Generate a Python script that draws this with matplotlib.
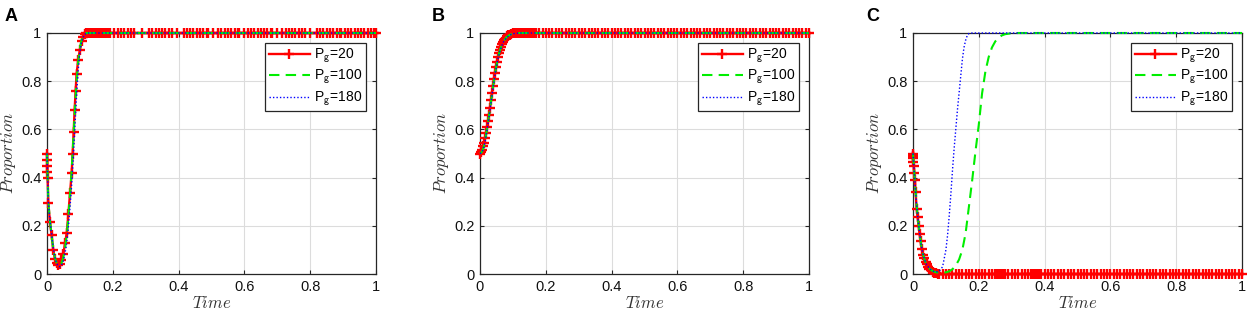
import matplotlib
matplotlib.use("Agg")
import matplotlib.pyplot as plt
from matplotlib.ticker import FormatStrFormatter

plt.rcParams['font.family'] = ['Liberation Sans', 'DejaVu Sans']
plt.rcParams['mathtext.fontset'] = 'cm'

labels = [r'P$_{\mathsf{g}}$=20', r'P$_{\mathsf{g}}$=100', r'P$_{\mathsf{g}}$=180']
panel_names = ['A', 'B', 'C']

# ---- panel A ----
a_t20 = [0, 0.0005, 0.001, 0.0015, 0.002, 0.004, 0.009, 0.014, 0.019, 0.024, 0.029, 0.034,
         0.039, 0.044, 0.050, 0.055, 0.060, 0.065, 0.070, 0.075, 0.078, 0.081, 0.084, 0.087,
         0.090, 0.095, 0.100, 0.105, 0.110, 0.115, 0.120]
a_y20 = [0.50, 0.475, 0.45, 0.425, 0.40, 0.295, 0.215, 0.16, 0.10, 0.063, 0.045, 0.037,
         0.042, 0.058, 0.085, 0.13, 0.17, 0.25, 0.335, 0.42, 0.50, 0.59, 0.68, 0.76,
         0.83, 0.89, 0.93, 0.965, 0.985, 0.995, 1.0]
a_flat20 = [0.125, 0.13, 0.135, 0.14, 0.145, 0.15, 0.155, 0.16, 0.165, 0.17, 0.175, 0.18,
            0.185, 0.19, 0.205, 0.215, 0.225, 0.235, 0.245, 0.255, 0.265, 0.29,
            0.31, 0.32, 0.33, 0.34, 0.35, 0.36, 0.37, 0.38, 0.395,
            0.415, 0.425, 0.435, 0.445, 0.455, 0.465, 0.475, 0.485, 0.49, 0.505,
            0.52, 0.53, 0.54, 0.55, 0.56, 0.57, 0.58, 0.585, 0.60,
            0.61, 0.62, 0.63, 0.64, 0.65, 0.66, 0.67, 0.68, 0.685, 0.70,
            0.715, 0.725, 0.735, 0.745, 0.755, 0.765, 0.775, 0.785, 0.80,
            0.82, 0.83, 0.84, 0.85, 0.86, 0.87, 0.88, 0.89, 0.895, 0.905,
            0.915, 0.925, 0.935, 0.945, 0.955, 0.965, 0.975, 0.985, 0.995, 1.0]
a_t_other = [0, 0.004, 0.009, 0.014, 0.019, 0.024, 0.029, 0.034, 0.039, 0.044, 0.049, 0.054,
             0.059, 0.064, 0.069, 0.074, 0.079, 0.084, 0.089, 0.094, 0.099, 0.104, 0.109,
             0.114, 0.120, 0.13, 1.0]
a_y100 = [0.50, 0.30, 0.22, 0.16, 0.105, 0.068, 0.047, 0.036, 0.035, 0.045, 0.065, 0.10,
          0.15, 0.22, 0.31, 0.41, 0.53, 0.66, 0.78, 0.87, 0.93, 0.965, 0.985, 0.995, 1.0,
          1.0, 1.0]
a_y180 = [0.50, 0.30, 0.22, 0.165, 0.11, 0.07, 0.045, 0.033, 0.030, 0.036, 0.052, 0.08,
          0.12, 0.18, 0.26, 0.35, 0.46, 0.59, 0.72, 0.83, 0.91, 0.955, 0.98, 0.993, 1.0,
          1.0, 1.0]

# ---- panel B ----
b_t20 = [0, 0.003, 0.006, 0.009, 0.012, 0.015, 0.018, 0.021, 0.024, 0.027, 0.030, 0.033,
         0.036, 0.039, 0.042, 0.045, 0.048, 0.051, 0.054, 0.057, 0.060, 0.063, 0.066, 0.069,
         0.072, 0.075, 0.078, 0.082, 0.086, 0.090, 0.095, 0.100, 0.105, 0.110, 0.115]
b_y20 = [0.50, 0.505, 0.515, 0.53, 0.545, 0.565, 0.585, 0.61, 0.635, 0.66, 0.69, 0.72,
         0.75, 0.78, 0.81, 0.835, 0.86, 0.88, 0.90, 0.915, 0.93, 0.942, 0.953, 0.962,
         0.97, 0.976, 0.981, 0.986, 0.990, 0.993, 0.996, 0.998, 0.999, 1.0, 1.0]
b_flat20 = [0.12, 0.125, 0.13, 0.135, 0.14, 0.145, 0.15, 0.155, 0.16, 0.165, 0.17, 0.18,
            0.19, 0.20, 0.21, 0.22, 0.23, 0.24, 0.25, 0.26, 0.27, 0.28, 0.29, 0.30, 0.31,
            0.32, 0.33, 0.34, 0.35, 0.36, 0.37, 0.38, 0.39, 0.40, 0.41, 0.42, 0.43, 0.44,
            0.45, 0.46, 0.47, 0.48, 0.49, 0.50, 0.51, 0.52, 0.53, 0.54, 0.55, 0.56, 0.57,
            0.58, 0.59, 0.60, 0.61, 0.62, 0.63, 0.64, 0.65, 0.66, 0.67, 0.68, 0.69, 0.70,
            0.71, 0.72, 0.73, 0.74, 0.75, 0.76, 0.77, 0.78, 0.79, 0.80, 0.81, 0.82, 0.83,
            0.84, 0.85, 0.86, 0.87, 0.88, 0.89, 0.90, 0.91, 0.92, 0.93, 0.94, 0.95, 0.96,
            0.97, 0.98, 0.99, 1.0]
b_t_other = [0, 0.005, 0.010, 0.015, 0.020, 0.025, 0.030, 0.035, 0.040, 0.045, 0.050, 0.055,
             0.060, 0.065, 0.070, 0.080, 0.090, 0.100, 0.110, 0.120, 1.0]
b_y100 = [0.50, 0.505, 0.52, 0.55, 0.59, 0.635, 0.68, 0.73, 0.78, 0.825, 0.865, 0.90,
          0.925, 0.945, 0.962, 0.982, 0.992, 0.997, 0.999, 1.0, 1.0]
b_y180 = [0.50, 0.503, 0.517, 0.545, 0.585, 0.63, 0.675, 0.725, 0.775, 0.82, 0.86, 0.895,
          0.922, 0.943, 0.96, 0.98, 0.991, 0.997, 0.999, 1.0, 1.0]

# ---- panel C ----
c_t20 = [0, 0.0005, 0.001, 0.0015, 0.002, 0.004, 0.006, 0.008, 0.011, 0.014, 0.017, 0.020,
         0.023, 0.026, 0.030, 0.034, 0.038, 0.042, 0.046, 0.050, 0.055, 0.060, 0.065,
         0.070, 0.075]
c_y20 = [0.50, 0.49, 0.48, 0.465, 0.45, 0.42, 0.39, 0.34, 0.27, 0.235, 0.20, 0.165,
         0.135, 0.105, 0.08, 0.065, 0.05, 0.04, 0.03, 0.022, 0.015, 0.01, 0.006,
         0.004, 0.002]
c_flat20 = [0.08, 0.09, 0.10, 0.11, 0.12, 0.13, 0.14, 0.15, 0.16, 0.17, 0.18, 0.19, 0.20,
            0.21, 0.22, 0.23, 0.24, 0.25, 0.255, 0.26, 0.265, 0.27, 0.275, 0.28, 0.29, 0.30,
            0.31, 0.32, 0.33, 0.34, 0.35, 0.36, 0.365, 0.37, 0.375, 0.38, 0.385, 0.39, 0.40,
            0.41, 0.42, 0.43, 0.44, 0.45, 0.46, 0.47, 0.48, 0.49, 0.50, 0.51, 0.52, 0.53,
            0.54, 0.55, 0.56, 0.57, 0.58, 0.59, 0.60, 0.61, 0.62, 0.63, 0.64, 0.65, 0.66,
            0.67, 0.68, 0.69, 0.70, 0.71, 0.72, 0.73, 0.74, 0.75, 0.76, 0.77, 0.78, 0.79,
            0.80, 0.81, 0.82, 0.83, 0.84, 0.85, 0.86, 0.87, 0.88, 0.89, 0.90, 0.91, 0.92,
            0.93, 0.94, 0.95, 0.96, 0.97, 0.98, 0.99, 1.0]
c_t100 = [0, 0.005, 0.01, 0.015, 0.02, 0.025, 0.03, 0.035, 0.04, 0.05, 0.06, 0.07, 0.08,
          0.09, 0.10, 0.11, 0.12, 0.13, 0.14, 0.15, 0.16, 0.17, 0.18, 0.19, 0.20, 0.21,
          0.22, 0.23, 0.24, 0.25, 0.26, 0.27, 0.28, 0.30, 0.32, 1.0]
c_y100 = [0.50, 0.40, 0.30, 0.23, 0.17, 0.12, 0.085, 0.06, 0.042, 0.022, 0.012, 0.007,
          0.005, 0.005, 0.007, 0.011, 0.02, 0.035, 0.06, 0.10, 0.17, 0.28, 0.39, 0.51,
          0.62, 0.75, 0.84, 0.90, 0.94, 0.965, 0.98, 0.99, 0.995, 0.999, 1.0, 1.0]
c_t180 = [0, 0.005, 0.01, 0.015, 0.02, 0.025, 0.03, 0.035, 0.04, 0.05, 0.06, 0.07, 0.08,
          0.09, 0.10, 0.105, 0.11, 0.115, 0.12, 0.125, 0.13, 0.135, 0.14, 0.145, 0.15,
          0.155, 0.16, 0.165, 0.17, 0.18, 1.0]
c_y180 = [0.50, 0.40, 0.30, 0.23, 0.17, 0.12, 0.085, 0.06, 0.042, 0.022, 0.012, 0.008,
          0.012, 0.03, 0.10, 0.16, 0.24, 0.33, 0.43, 0.52, 0.60, 0.68, 0.75, 0.82, 0.89,
          0.94, 0.97, 0.99, 0.998, 1.0, 1.0]

panels = [
    (a_t20 + a_flat20, a_y20 + [1.0] * len(a_flat20), a_t_other, a_y100, a_t_other, a_y180),
    (b_t20 + b_flat20, b_y20 + [1.0] * len(b_flat20), b_t_other, b_y100, b_t_other, b_y180),
    (c_t20 + c_flat20, c_y20 + [0.0] * len(c_flat20), c_t100, c_y100, c_t180, c_y180),
]

W, H = 1248, 312
fig = plt.figure(figsize=(W / 100, H / 100), dpi=100)

axes_left_px = [47, 480, 913]
axes_w_px = 329
axes_top_px, axes_bot_px = 33, 274
letter_x_px = [5, 432, 866]

edge = '#262626'
for i, (t20, y20, t100, y100, t180, y180) in enumerate(panels):
    ax = fig.add_axes([axes_left_px[i] / W, (H - axes_bot_px) / H,
                       axes_w_px / W, (axes_bot_px - axes_top_px) / H])
    ax.plot(t20, y20, color='red', lw=1.7, marker='+', ms=6.5, mew=1.7,
            label=labels[0], clip_on=False, zorder=3)
    ax.plot(t100, y100, color='#00ee00', lw=1.5, ls=(0, (5, 3)),
            label=labels[1], clip_on=False, zorder=4)
    ax.plot(t180, y180, color='blue', lw=1.0, ls=(0, (1, 1.5)),
            label=labels[2], clip_on=False, zorder=5)

    ax.set_xlim(0, 1)
    ax.set_ylim(0, 1)
    ax.set_xticks([0, 0.2, 0.4, 0.6, 0.8, 1])
    ax.set_yticks([0, 0.2, 0.4, 0.6, 0.8, 1])
    ax.xaxis.set_major_formatter(FormatStrFormatter('%g'))
    ax.yaxis.set_major_formatter(FormatStrFormatter('%g'))
    ax.grid(True, color='#dcdcdc', lw=0.8)
    ax.set_axisbelow(True)
    ax.tick_params(direction='in', length=3, width=0.8, colors=edge, labelsize=10.5,
                   top=True, right=True, pad=4)
    ax.tick_params(labelcolor='#111111')
    for s in ax.spines.values():
        s.set_color(edge)
        s.set_linewidth(0.9)
    ax.set_xlabel('$Time$', fontsize=12, color='#333333', labelpad=1)
    ax.set_ylabel('$Proportion$', fontsize=12, color='#333333', labelpad=2)

    leg = ax.legend(loc='upper right', fontsize=10, frameon=True, fancybox=False,
                    edgecolor=edge, framealpha=1, handlelength=3.0, handletextpad=0.25,
                    borderpad=0.25, labelspacing=0.22, borderaxespad=0.75)
    leg.get_frame().set_linewidth(0.9)
    leg.set_zorder(10)

    fig.text(letter_x_px[i] / W, 1 - 8 / H, panel_names[i], fontsize=13,
             fontweight='bold', va='top', ha='left')

fig.savefig('out.png', dpi=100)
